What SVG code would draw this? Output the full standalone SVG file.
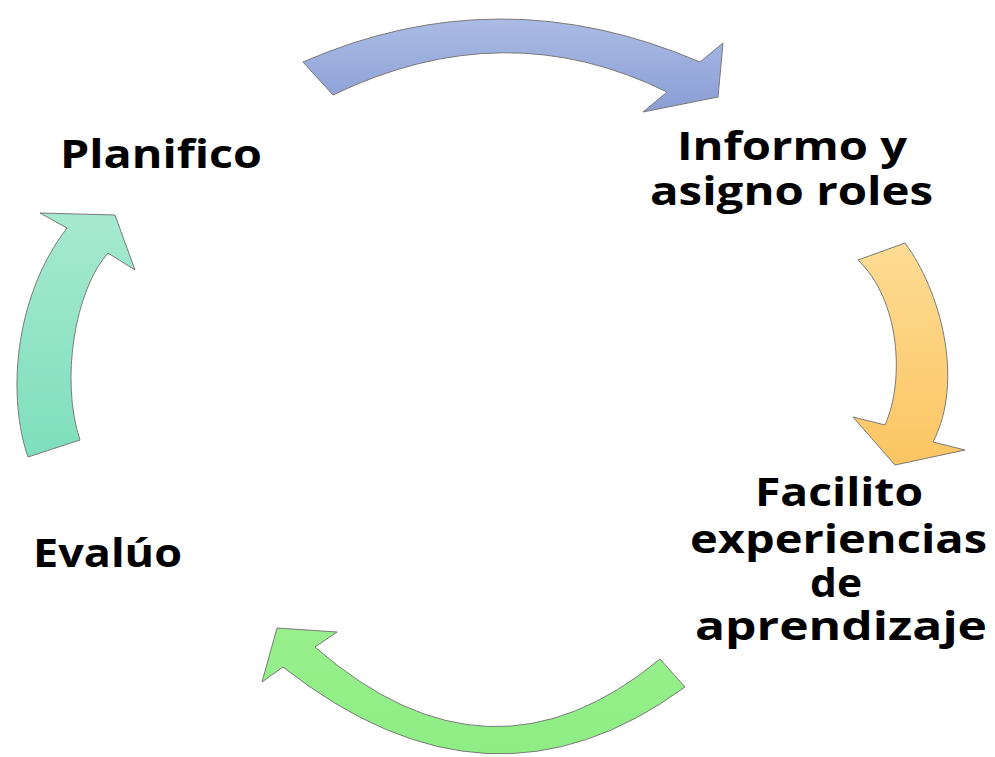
<svg xmlns="http://www.w3.org/2000/svg" width="995" height="757" viewBox="0 0 995 757">
<defs>
<linearGradient id="gBlue" x1="0" y1="0" x2="0" y2="1"><stop offset="0" stop-color="#abbbe4"/><stop offset="1" stop-color="#8a9ed6"/></linearGradient>
<linearGradient id="gOrange" x1="0" y1="0" x2="0" y2="1"><stop offset="0" stop-color="#fddc94"/><stop offset="1" stop-color="#fcc562"/></linearGradient>
<linearGradient id="gGreen" x1="0" y1="0" x2="0" y2="1"><stop offset="0" stop-color="#98ef8c"/><stop offset="1" stop-color="#8eee84"/></linearGradient>
<linearGradient id="gTeal" x1="0" y1="0" x2="0" y2="1"><stop offset="0" stop-color="#a6e9d1"/><stop offset="1" stop-color="#7edfbd"/></linearGradient>
</defs>
<style>
.arrow{stroke:#7a7a7a;stroke-width:1;stroke-linejoin:miter}
.lbl{font-family:"Open Sans","Liberation Sans",sans-serif;font-weight:700;font-size:39px;fill:#000}
</style>
<rect width="995" height="757" fill="#ffffff"/>
<g id="connectors">
<path id="arrow-top" class="arrow" fill="url(#gBlue)" d="M303,62 Q500,-24 700,62 L723,43 L718,97 L643,112 L667,92 Q505,12 333,95 Z"/>
<path id="arrow-right" class="arrow" fill="url(#gOrange)" d="M905,243 C940,290 965,380 933,442 L965,450 L895,465 L853,417 L885,425 C905,380 900,300 858,260 Z"/>
<path id="arrow-bottom" class="arrow" fill="url(#gGreen)" d="M685,687 Q490,830 283,667 L262,682 L277,628 L337,632 L315,647 Q490,800 660,659 Z"/>
<path id="arrow-left" class="arrow" fill="url(#gTeal)" d="M28,457 C8,400 12,300 67,228 L40,213 L115,215 L135,270 L108,253 C75,290 60,380 80,440 Z"/>
</g>
<g id="node-planifico">
<text class="lbl" x="60" y="168" textLength="202" lengthAdjust="spacingAndGlyphs">Planifico</text>
</g>
<g id="node-informo">
<text class="lbl" x="677" y="160" textLength="230" lengthAdjust="spacingAndGlyphs">Informo y</text>
<text class="lbl" x="650" y="205" textLength="283" lengthAdjust="spacingAndGlyphs">asigno roles</text>
</g>
<g id="node-facilito">
<text class="lbl" x="755" y="506" textLength="168" lengthAdjust="spacingAndGlyphs">Facilito</text>
<text class="lbl" x="690" y="553" textLength="297" lengthAdjust="spacingAndGlyphs">experiencias</text>
<text class="lbl" x="810" y="597" textLength="52" lengthAdjust="spacingAndGlyphs">de</text>
<text class="lbl" x="695" y="640" textLength="292" lengthAdjust="spacingAndGlyphs">aprendizaje</text>
</g>
<g id="node-evaluo">
<text class="lbl" x="33" y="567" textLength="149" lengthAdjust="spacingAndGlyphs">Evalúo</text>
</g>
</svg>
